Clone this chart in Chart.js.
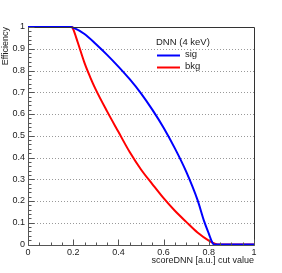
<!DOCTYPE html>
<html>
<head>
<meta charset="utf-8">
<script src="https://cdn.jsdelivr.net/npm/chart.js@4/dist/chart.umd.min.js"></script>
<style>
  html, body { margin: 0; padding: 0; background: #fff; }
  #wrap { width: 282px; height: 273px; }
</style>
</head>
<body>
<div id="wrap"><canvas id="effChart" width="282" height="273"></canvas></div>
<script>
// values
const sigCut = [0, 0.1, 0.19, 0.2, 0.25, 0.3, 0.35, 0.4, 0.45, 0.5, 0.55, 0.6, 0.65, 0.7, 0.75, 0.78, 0.8, 0.815, 0.822, 0.9, 1];
const sigEff = [1, 1, 1, 0.997, 0.968, 0.922, 0.872, 0.818, 0.76, 0.695, 0.62, 0.537, 0.442, 0.335, 0.205, 0.105, 0.05, 0.01, 0, 0, 0];
const bkgCut = [0, 0.1, 0.195, 0.2, 0.22, 0.25, 0.275, 0.3, 0.35, 0.4, 0.45, 0.5, 0.55, 0.6, 0.65, 0.7, 0.75, 0.8, 0.83, 0.845, 0.9, 1];
const bkgEff = [1, 1, 1, 0.99, 0.93, 0.835, 0.77, 0.712, 0.612, 0.518, 0.425, 0.345, 0.278, 0.213, 0.155, 0.104, 0.055, 0.018, 0.003, 0, 0, 0];
const seriesNames = ['sig', 'bkg'];
const legendHeader = 'DNN (4 keV)';
const xTicks = [0, 0.2, 0.4, 0.6, 0.8, 1];
const yTicks = [0, 0.1, 0.2, 0.3, 0.4, 0.5, 0.6, 0.7, 0.8, 0.9, 1];

const FONT = 'Liberation Sans, Arial, sans-serif';

const toPts = (xs, ys) => xs.map((x, i) => ({ x: x, y: ys[i] }));

// ROOT look: dotted grid, inner ticks, frame, legend box
const rootStyle = {
    id: 'rootStyle',
    beforeDatasetsDraw(chart) {
        const ctx = chart.ctx;
        const a = chart.chartArea;
        const ys = chart.scales.y;
        ctx.save();
        ctx.strokeStyle = '#999';
        ctx.lineWidth = 1;
        ctx.setLineDash([1, 2]);
        ctx.beginPath();
        yTicks.forEach(v => {
            if (v <= 0 || v >= 1) return;
            const py = Math.round(ys.getPixelForValue(v)) + 0.5;
            ctx.moveTo(a.left, py);
            ctx.lineTo(a.right, py);
        });
        ctx.stroke();
        ctx.restore();
    },
    afterDatasetsDraw(chart) {
        const ctx = chart.ctx;
        const a = chart.chartArea;
        const xs = chart.scales.x, ys = chart.scales.y;
        const L = Math.round(a.left) + 0.5, R = Math.round(a.right) + 0.5;
        const T = Math.round(a.top) + 0.5, B = Math.round(a.bottom) + 0.5;
        ctx.save();
        ctx.lineWidth = 1;
        ctx.strokeStyle = '#333';
        ctx.beginPath();
        ctx.moveTo(L, T);
        ctx.lineTo(R, T);
        ctx.lineTo(R, B);
        ctx.stroke();
        ctx.strokeStyle = '#555';
        ctx.beginPath();
        ctx.moveTo(L, T);
        ctx.lineTo(L, B);
        ctx.lineTo(R, B);
        // y ticks (major 0.1, minor 0.02)
        for (let i = 0; i <= 50; i++) {
            const py = Math.round(ys.getPixelForValue(i * 0.02)) + 0.5;
            const len = i % 5 === 0 ? 6 : 3;
            ctx.moveTo(L, py);
            ctx.lineTo(L + len, py);
        }
        // x ticks (major 0.2, minor 0.05)
        for (let i = 0; i <= 20; i++) {
            const px = Math.round(xs.getPixelForValue(i * 0.05)) + 0.5;
            const len = i % 4 === 0 ? 6 : 3;
            ctx.moveTo(px, B);
            ctx.lineTo(px, B - len);
        }
        ctx.stroke();

        // legend
        const lx = a.left + 128, ly = a.top + 15;
        ctx.font = '9.5px ' + FONT;
        ctx.fillStyle = '#222';
        ctx.textBaseline = 'middle';
        ctx.textAlign = 'left';
        ctx.fillText(legendHeader, lx, ly);
        chart.data.datasets.forEach((ds, i) => {
            const y = Math.round(ly + 12.5 * (i + 1)) + 0.5;
            ctx.strokeStyle = ds.borderColor;
            ctx.lineWidth = 2;
            ctx.beginPath();
            ctx.moveTo(lx + 1, y);
            ctx.lineTo(lx + 24, y);
            ctx.stroke();
            ctx.fillStyle = '#222';
            ctx.fillText(ds.label, lx + 29, y - 1);
        });
        ctx.restore();
    }
};

new Chart(document.getElementById('effChart'), {
    type: 'scatter',
    data: {
        datasets: [
            {
                label: seriesNames[0],
                data: toPts(sigCut, sigEff),
                showLine: true,
                borderColor: '#0000ff',
                borderWidth: 2,
                pointRadius: 0,
                cubicInterpolationMode: 'monotone',
                clip: 3
            },
            {
                label: seriesNames[1],
                data: toPts(bkgCut, bkgEff),
                showLine: true,
                borderColor: '#ff0000',
                borderWidth: 2,
                pointRadius: 0,
                cubicInterpolationMode: 'monotone',
                clip: 3
            }
        ]
    },
    options: {
        responsive: false,
        animation: false,
        layout: { padding: { top: 27, right: 28, left: 0, bottom: 7 } },
        plugins: { legend: { display: false }, tooltip: { enabled: false } },
        scales: {
            x: {
                type: 'linear',
                min: 0,
                max: 1,
                afterBuildTicks: (s) => { s.ticks = xTicks.map(v => ({ value: v })); },
                afterFit: (s) => { s.height = 21.5; },
                grid: { display: false, drawTicks: false },
                border: { display: false },
                ticks: {
                    padding: 3,
                    color: '#222',
                    font: { family: FONT, size: 9 },
                    maxRotation: 0,
                    callback: (v) => String(+v.toFixed(1))
                },
                title: {
                    display: true,
                    text: 'scoreDNN [a.u.] cut value',
                    align: 'end',
                    color: '#222',
                    font: { family: FONT, size: 9 },
                    padding: { top: 0, bottom: 0 }
                }
            },
            y: {
                type: 'linear',
                min: 0,
                max: 1,
                afterBuildTicks: (s) => { s.ticks = yTicks.map(v => ({ value: v })); },
                afterFit: (s) => { s.width = 28; },
                grid: { display: false, drawTicks: false },
                border: { display: false },
                ticks: {
                    padding: 3,
                    color: '#222',
                    font: { family: FONT, size: 9 },
                    callback: (v) => String(+v.toFixed(1))
                },
                title: {
                    display: true,
                    text: 'Efficiency',
                    align: 'end',
                    color: '#222',
                    font: { family: FONT, size: 9 },
                    padding: { top: 0, bottom: 0 }
                }
            }
        }
    },
    plugins: [rootStyle]
});
</script>
</body>
</html>
